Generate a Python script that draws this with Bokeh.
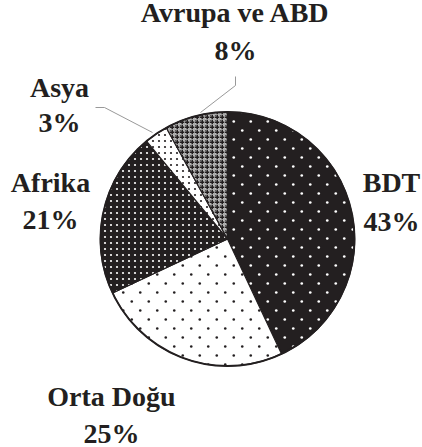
import math
import base64
from bokeh.plotting import figure
from bokeh.models import Range1d, ColumnDataSource, ImageURLTexture
from bokeh.core.properties import value
from bokeh.embed import file_html
from bokeh.resources import INLINE

# ---- data ----
regions = ["BDT", "Orta Doğu", "Afrika", "Asya", "Avrupa ve ABD"]
shares = [43, 25, 21, 3, 8]
pct_labels = ["43%", "25%", "21%", "3%", "8%"]

# ---- layout (picture pixel coordinates, y downward) ----
W, H = 422, 447
def dy(yi):
    return H - yi

TEXT_SHIFT = 11  # renderer draws alphabetic baseline lower than requested
cx, cy, r = 227, 238.5, 127
# label anchors: center x, name baseline y, percent baseline y
label_pos = [(391, 193, 232), (111, 407, 444), (50, 193, 230), (59, 98, 133), (235, 23, 61)]

dark = "#231f20"

def tile(w, h, dots, color, rad):
    circles = "".join(
        f"<circle cx='{x}' cy='{y}' r='{rad}' fill='{color}'/>" for x, y in dots)
    svg = f"<svg xmlns='http://www.w3.org/2000/svg' width='{w}' height='{h}'>{circles}</svg>"
    return "data:image/svg+xml;base64," + base64.b64encode(svg.encode()).decode()

def grid_tile(w, h):
    # grey cells with dark cross lines (checkered grey look)
    svg = (f"<svg xmlns='http://www.w3.org/2000/svg' width='{w}' height='{h}'>"
           f"<rect width='{w}' height='{h}' fill='#c4c4c4'/>"
           f"<rect x='0' y='{h/2-0.8}' width='{w}' height='1.6' fill='{dark}'/>"
           f"<rect x='{w/2-0.8}' y='0' width='1.6' height='{h}' fill='{dark}'/>"
           f"<circle cx='0' cy='0' r='0.9' fill='{dark}'/>"
           f"</svg>")
    return "data:image/svg+xml;base64," + base64.b64encode(svg.encode()).decode()

textures = {
    "bdt": ImageURLTexture(url=tile(17, 18, [(4.25, 4.5), (12.75, 13.5)], "#ffffff", 1.35), repetition="repeat"),
    "orta": ImageURLTexture(url=tile(17, 18, [(4.25, 4.5), (12.75, 13.5)], dark, 1.3), repetition="repeat"),
    "afrika": ImageURLTexture(url=tile(6, 6, [(3, 3)], "#ffffff", 1.1), repetition="repeat"),
    "asya": ImageURLTexture(url=tile(6, 6, [(3, 3)], dark, 1.1), repetition="repeat"),
    "avrupa": ImageURLTexture(url=grid_tile(4.5, 4.5), repetition="repeat"),
}

fills = [dark, "#ffffff", dark, "#ffffff", "#a8a8a8"]
hatches = ["bdt", "orta", "afrika", "asya", "avrupa"]

total = sum(shares)
starts, ends = [], []
acc = 0
for s in shares:
    starts.append(math.pi / 2 - 2 * math.pi * acc / total)
    acc += s
    ends.append(math.pi / 2 - 2 * math.pi * acc / total)

src = ColumnDataSource(dict(
    x=[cx] * len(shares), y=[dy(cy)] * len(shares),
    start=starts, end=ends, fill=fills, hatch=hatches,
))

p = figure(width=W, height=H, output_backend="svg", toolbar_location=None,
           x_range=Range1d(0, W), y_range=Range1d(0, H), min_border=0)
p.axis.visible = False
p.grid.visible = False
p.outline_line_color = None
p.background_fill_color = "white"
p.border_fill_color = "white"

p.wedge(x="x", y="y", radius=r, start_angle="start", end_angle="end",
        direction="clock", source=src, fill_color="fill",
        hatch_pattern="hatch", hatch_extra=textures,
        line_color=dark, line_width=1.2)
p.circle(x=[cx], y=[dy(cy)], radius=r, fill_color=None, line_color=dark, line_width=2)

# leader lines
p.line(x=[235, 235, 200], y=[dy(76), dy(85), dy(112)], line_color="#999999", line_width=1)
p.line(x=[95, 104, 152], y=[dy(107), dy(107), dy(132)], line_color="#999999", line_width=1)

name_src = ColumnDataSource(dict(
    x=[lp[0] for lp in label_pos], y=[dy(lp[1] - TEXT_SHIFT) for lp in label_pos], t=regions))
pct_src = ColumnDataSource(dict(
    x=[lp[0] for lp in label_pos], y=[dy(lp[2] - TEXT_SHIFT) for lp in label_pos], t=pct_labels))
for s in (name_src, pct_src):
    p.text(x="x", y="y", text="t", source=s,
           text_font=value("'Liberation Serif', 'Times New Roman', serif"),
           text_font_style="bold", text_font_size="28px", text_align="center",
           text_baseline="alphabetic", text_color=dark)

open("out.html", "w").write(file_html(p, INLINE))
